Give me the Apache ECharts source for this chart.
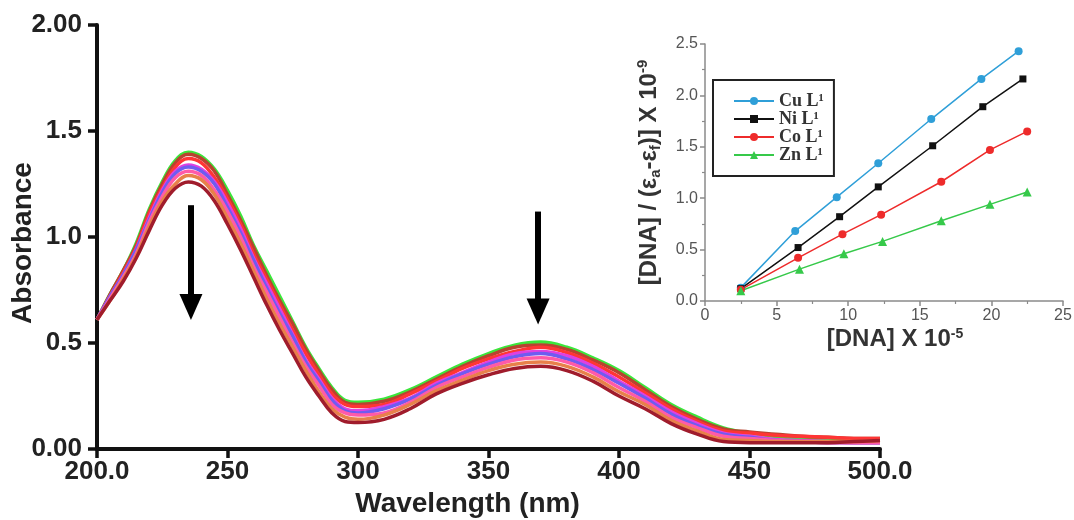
<!DOCTYPE html>
<html>
<head>
<meta charset="utf-8">
<title>UV-Vis titration</title>
<script src="https://cdn.jsdelivr.net/npm/echarts@6/dist/echarts.min.js"></script>
<style>
  html, body { margin: 0; padding: 0; background: #fff; }
  #chart { width: 1074px; height: 520px; }
</style>
</head>
<body>
<div id="chart"></div>
<script>
// wavelength grid (nm) shared by all spectra
var wavelengths = [200,205,210,215,220,225,230,235,240,245,250,255,260,265,270,275,280,285,290,295,300,
                   310,320,330,340,350,360,370,380,390,400,410,420,430,440,450,460,470,480,490,500];

// absorbance of each spectrum, top (green) to bottom (dark red)
var absGreen = [0.61,0.73,0.84,0.97,1.13,1.26,1.36,1.40,1.38,1.32,1.22,1.10,0.96,0.84,0.72,0.60,0.48,0.38,0.29,0.23,0.22,
                0.235,0.28,0.34,0.40,0.45,0.49,0.505,0.48,0.43,0.37,0.29,0.21,0.15,0.10,0.075,0.06,0.05,0.045,0.04,0.04];
var absBrown = [0.61,0.73,0.84,0.96,1.12,1.25,1.35,1.39,1.37,1.31,1.20,1.08,0.95,0.82,0.70,0.59,0.47,0.37,0.28,0.22,0.21,
                0.225,0.27,0.33,0.39,0.44,0.48,0.49,0.47,0.42,0.36,0.28,0.20,0.14,0.095,0.08,0.07,0.06,0.055,0.05,0.05];
var absRed = [0.61,0.72,0.83,0.95,1.11,1.23,1.33,1.37,1.35,1.28,1.18,1.06,0.92,0.80,0.68,0.56,0.45,0.35,0.26,0.21,0.20,
              0.21,0.26,0.32,0.38,0.425,0.46,0.48,0.455,0.405,0.34,0.265,0.19,0.13,0.085,0.075,0.065,0.06,0.055,0.05,0.05];
var absMagenta = [0.61,0.72,0.82,0.94,1.09,1.22,1.31,1.34,1.32,1.26,1.16,1.04,0.90,0.78,0.66,0.54,0.42,0.33,0.24,0.19,0.18,
                  0.20,0.24,0.31,0.36,0.41,0.45,0.46,0.44,0.39,0.32,0.25,0.175,0.12,0.075,0.06,0.045,0.04,0.035,0.03,0.03];
var absBlue = [0.61,0.72,0.82,0.94,1.08,1.21,1.30,1.33,1.31,1.25,1.14,1.02,0.89,0.76,0.64,0.53,0.41,0.32,0.23,0.18,0.17,
               0.19,0.235,0.30,0.355,0.40,0.435,0.45,0.425,0.375,0.31,0.24,0.165,0.11,0.07,0.055,0.04,0.035,0.03,0.03,0.03];
var absPink = [0.61,0.71,0.81,0.92,1.07,1.19,1.28,1.31,1.29,1.22,1.12,1.00,0.86,0.74,0.62,0.50,0.39,0.30,0.21,0.17,0.16,
               0.17,0.22,0.29,0.34,0.385,0.42,0.43,0.41,0.36,0.29,0.225,0.15,0.10,0.06,0.05,0.04,0.035,0.03,0.03,0.03];
var absOrange = [0.61,0.70,0.80,0.91,1.05,1.17,1.25,1.29,1.27,1.20,1.09,0.97,0.84,0.71,0.59,0.48,0.37,0.27,0.19,0.15,0.14,
                 0.16,0.21,0.275,0.325,0.37,0.40,0.41,0.39,0.34,0.27,0.21,0.135,0.085,0.045,0.04,0.035,0.035,0.035,0.035,0.04];
var absDarkRed = [0.61,0.70,0.79,0.90,1.03,1.15,1.23,1.26,1.24,1.17,1.06,0.94,0.81,0.68,0.56,0.45,0.34,0.25,0.17,0.13,0.125,
                  0.14,0.19,0.26,0.31,0.35,0.38,0.39,0.37,0.32,0.25,0.19,0.12,0.07,0.035,0.03,0.03,0.03,0.03,0.035,0.04];

// arrows: [wavelength, start absorbance, end absorbance]
var arrowMarks = [[236, 1.15, 0.67], [369, 1.12, 0.648]];

var xTickLabels = ['200.0','250','300','350','400','450','500.0'];
var yTickLabels = ['0.00','0.5','1.0','1.5','2.00'];

// inset: [DNA] x 1e-5 vs [DNA]/(ea-ef) x 1e-9
var insetNames = ['Cu L¹','Ni L¹','Co L¹','Zn L¹'];
var dnaCu = [2.5, 6.3, 9.2, 12.1, 15.8, 19.3, 21.9];
var ratioCu = [0.13, 0.68, 1.01, 1.34, 1.77, 2.16, 2.43];
var dnaNi = [2.5, 6.5, 9.4, 12.1, 15.9, 19.4, 22.2];
var ratioNi = [0.12, 0.52, 0.82, 1.11, 1.51, 1.89, 2.16];
var dnaCo = [2.5, 6.5, 9.6, 12.3, 16.5, 19.9, 22.5];
var ratioCo = [0.11, 0.42, 0.65, 0.84, 1.16, 1.47, 1.65];
var dnaZn = [2.5, 6.6, 9.7, 12.4, 16.5, 19.9, 22.5];
var ratioZn = [0.10, 0.31, 0.46, 0.58, 0.78, 0.94, 1.06];

function zip(xs, ys) {
  return xs.map(function (x, i) { return [x, ys[i]]; });
}

var sansFont = '"Liberation Sans", Arial, sans-serif';
var myChart = echarts.init(document.getElementById('chart'));

var spectra = [
  { values: absGreen, color: '#3be63b' },
  { values: absBrown, color: '#b8432f' },
  { values: absRed, color: '#ff3535' },
  { values: absMagenta, color: '#e040e0' },
  { values: absBlue, color: '#6f5cf0' },
  { values: absPink, color: '#ff5aa8' },
  { values: absOrange, color: '#e8804a' },
  { values: absDarkRed, color: '#a01c2c' }
];

var series = spectra.map(function (s, i) {
  return {
    name: 'spectrum' + i,
    type: 'line',
    xAxisIndex: 0,
    yAxisIndex: 0,
    data: zip(wavelengths, s.values),
    smooth: 0.4,
    showSymbol: false,
    silent: true,
    lineStyle: { color: s.color, width: 3.5 },
    z: 2
  };
});

// arrows hung on the last spectrum
series[series.length - 1].markLine = {
  silent: true,
  symbol: ['none', 'triangle'],
  symbolSize: [23, 26],
  lineStyle: { color: '#000', width: 6, type: 'solid' },
  label: { show: false },
  data: arrowMarks.map(function (a) {
    return [{ coord: [a[0], a[1]] }, { coord: [a[0], a[2]] }];
  })
};

var insetStyle = [
  { x: dnaCu, y: ratioCu, color: '#2f9fd8', symbol: 'circle', size: 8 },
  { x: dnaNi, y: ratioNi, color: '#111111', symbol: 'rect', size: 7 },
  { x: dnaCo, y: ratioCo, color: '#ee2b2b', symbol: 'circle', size: 8 },
  { x: dnaZn, y: ratioZn, color: '#36c94a', symbol: 'triangle', size: 9 }
];

insetStyle.forEach(function (s, i) {
  series.push({
    name: insetNames[i],
    type: 'line',
    xAxisIndex: 1,
    yAxisIndex: 1,
    data: zip(s.x, s.y),
    symbol: s.symbol,
    symbolSize: s.size,
    lineStyle: { color: s.color, width: 1.5 },
    itemStyle: { color: s.color },
    z: 5
  });
});

var mainAxisLine = { show: true, lineStyle: { color: '#111', width: 4 } };
var mainTick = { show: true, inside: false, length: 9, lineStyle: { color: '#111', width: 3.5 } };
var insetAxisLine = { show: true, lineStyle: { color: '#8a8a8a', width: 1.5 } };
var insetTick = { show: true, length: 5, lineStyle: { color: '#8a8a8a', width: 1.5 } };
var insetMinor = { show: true, splitNumber: 2, length: 3, lineStyle: { color: '#8a8a8a', width: 1.2 } };

var option = {
  animation: false,
  backgroundColor: '#fff',
  grid: [
    { left: 97, right: 194, top: 25, bottom: 71, outerBoundsMode: 'none', containLabel: false },
    { left: 705, right: 11, top: 44, bottom: 219, outerBoundsMode: 'none', containLabel: false }
  ],
  legend: {
    data: insetNames,
    orient: 'vertical',
    left: 713,
    top: 80,
    padding: [12, 10, 12, 20],
    itemGap: 0,
    itemWidth: 40,
    itemHeight: 10,
    borderColor: '#222',
    borderWidth: 2,
    textStyle: {
      fontFamily: '"Liberation Serif", "Times New Roman", serif',
      fontWeight: 'bold',
      fontSize: 18,
      lineHeight: 18,
      color: '#333'
    }
  },
  xAxis: [
    {
      type: 'value',
      gridIndex: 0,
      min: 200,
      max: 500,
      interval: 50,
      name: 'Wavelength (nm)',
      nameLocation: 'middle',
      nameGap: 39,
      nameTextStyle: { fontFamily: sansFont, fontWeight: 'bold', fontSize: 28, color: '#222', padding: [0, 42, 0, 0] },
      axisLine: mainAxisLine,
      axisTick: mainTick,
      splitLine: { show: false },
      axisLabel: {
        margin: 10,
        fontFamily: sansFont,
        fontWeight: 'bold',
        fontSize: 26,
        color: '#222',
        formatter: function (v) { return xTickLabels[(v - 200) / 50]; }
      }
    },
    {
      type: 'value',
      gridIndex: 1,
      min: 0,
      max: 25,
      interval: 5,
      name: '[DNA] X 10{sup|-5}',
      nameLocation: 'middle',
      nameGap: 26,
      nameTextStyle: {
        fontFamily: sansFont, fontWeight: 'bold', fontSize: 24, color: '#333', padding: [0, 0, 0, 22],
        rich: { sup: { fontFamily: sansFont, fontSize: 14, fontWeight: 'bold', color: '#333', verticalAlign: 'top', lineHeight: 14 } }
      },
      axisLine: insetAxisLine,
      axisTick: insetTick,
      minorTick: insetMinor,
      splitLine: { show: false },
      axisLabel: { margin: 7, fontFamily: sansFont, fontSize: 16, color: '#555' }
    }
  ],
  yAxis: [
    {
      type: 'value',
      gridIndex: 0,
      min: 0,
      max: 2,
      interval: 0.5,
      name: 'Absorbance',
      nameLocation: 'middle',
      nameGap: 60,
      nameMoveOverlap: false,
      nameTextStyle: { fontFamily: sansFont, fontWeight: 'bold', fontSize: 28, color: '#222', padding: [0, 12, 0, 0] },
      axisLine: mainAxisLine,
      axisTick: mainTick,
      splitLine: { show: false },
      axisLabel: {
        margin: 15,
        fontFamily: sansFont,
        fontWeight: 'bold',
        fontSize: 26,
        color: '#222',
        formatter: function (v) { return yTickLabels[Math.round(v / 0.5)]; }
      }
    },
    {
      type: 'value',
      gridIndex: 1,
      min: 0,
      max: 2.5,
      interval: 0.5,
      name: '[DNA] / (ε{sub|a}-ε{sub|f})] X 10{sup|-9}',
      nameLocation: 'middle',
      nameGap: 42,
      nameTextStyle: {
        fontFamily: sansFont, fontWeight: 'bold', fontSize: 24, color: '#333', lineHeight: 28,
        rich: {
          sub: { fontFamily: sansFont, fontSize: 15, fontWeight: 'bold', color: '#333', verticalAlign: 'bottom', lineHeight: 14 },
          sup: { fontFamily: sansFont, fontSize: 15, fontWeight: 'bold', color: '#333', verticalAlign: 'top', lineHeight: 14 }
        }
      },
      axisLine: insetAxisLine,
      axisTick: insetTick,
      minorTick: insetMinor,
      splitLine: { show: false },
      axisLabel: {
        margin: 7,
        fontFamily: sansFont,
        fontSize: 16,
        color: '#555',
        formatter: function (v) { return v.toFixed(1); }
      }
    }
  ],
  series: series
};

myChart.setOption(option);

window.onresize = function () {
  myChart.resize();
};
</script>
</body>
</html>
